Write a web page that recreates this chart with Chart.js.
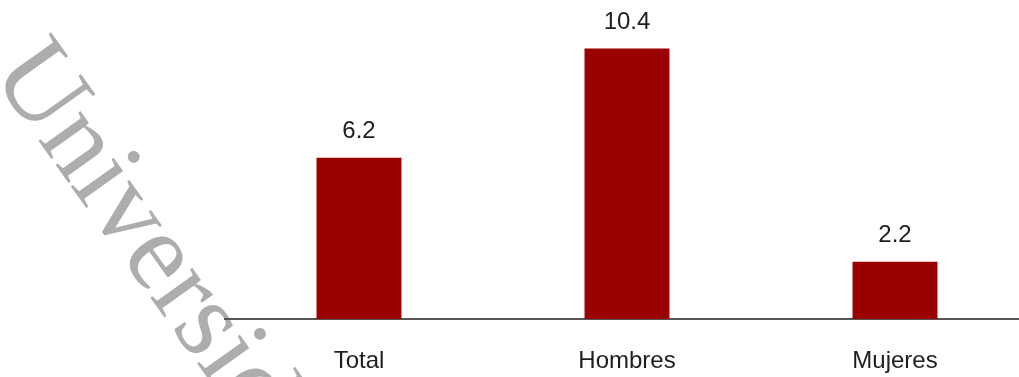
<!DOCTYPE html>
<html>
<head>
<meta charset="utf-8">
<script src="https://cdn.jsdelivr.net/npm/chart.js@4"></script>
<style>
  html, body { margin: 0; padding: 0; background: #fff; overflow: hidden; }
  #wrap { position: relative; width: 1035px; height: 377px; }
</style>
</head>
<body>
<div id="wrap"><canvas id="c" width="1035" height="377"></canvas></div>
<script>
const categories = ['Total', 'Hombres', 'Mujeres'];
const values = [6.2, 10.4, 2.2];
const watermarkText = 'Universidad';

const TEXT_FONT = '"Liberation Sans", Arial, sans-serif';

// Value written above each bar
const valueLabels = {
  id: 'valueLabels',
  afterDatasetsDraw(chart) {
    const ctx = chart.ctx;
    const meta = chart.getDatasetMeta(0);
    const data = chart.data.datasets[0].data;
    ctx.save();
    ctx.font = '24px ' + TEXT_FONT;
    ctx.fillStyle = '#1e1e1e';
    ctx.textAlign = 'center';
    ctx.textBaseline = 'alphabetic';
    meta.data.forEach((bar, i) => {
      ctx.fillText(data[i].toFixed(1), bar.x, bar.y - 20);
    });
    ctx.restore();
  }
};

// Diagonal serif watermark behind the chart on the left side
const watermark = {
  id: 'watermark',
  beforeDraw(chart) {
    const ctx = chart.ctx;
    const size = 112;
    const angle = 54.5 * Math.PI / 180;
    ctx.save();
    ctx.font = size + 'px "Liberation Serif", "Times New Roman", serif';
    // put the dot of the first "i" near the anchor point
    const lx = ctx.measureText('Un').width + ctx.measureText('i').width / 2 - 5;
    const ly = -0.63 * size;
    const ax = 133, ay = 152;
    const c = Math.cos(angle), s = Math.sin(angle);
    const px = ax - (lx * c - ly * s);
    const py = ay - (lx * s + ly * c);
    ctx.translate(px, py);
    ctx.rotate(angle);
    ctx.fillStyle = '#adadad';
    ctx.textBaseline = 'alphabetic';
    ctx.fillText(watermarkText, 0, 0);
    ctx.restore();
  }
};

new Chart(document.getElementById('c'), {
  type: 'bar',
  data: {
    labels: categories,
    datasets: [{
      data: values,
      backgroundColor: '#990000',
      borderWidth: 0,
      barPercentage: 0.317,
      categoryPercentage: 1.0
    }]
  },
  options: {
    responsive: false,
    animation: false,
    layout: { padding: { left: 225, right: 6, top: 0, bottom: 0 } },
    plugins: {
      legend: { display: false },
      tooltip: { enabled: false },
      title: { display: false }
    },
    scales: {
      x: {
        grid: { display: false, drawTicks: false },
        border: { display: true, color: '#555', width: 2 },
        ticks: {
          color: '#1e1e1e',
          font: { family: TEXT_FONT, size: 24 },
          padding: 28
        },
        afterFit(axis) { axis.height = 58; }
      },
      y: {
        display: false,
        min: 0,
        max: 12.27
      }
    }
  },
  plugins: [watermark, valueLabels]
});
</script>
</body>
</html>
